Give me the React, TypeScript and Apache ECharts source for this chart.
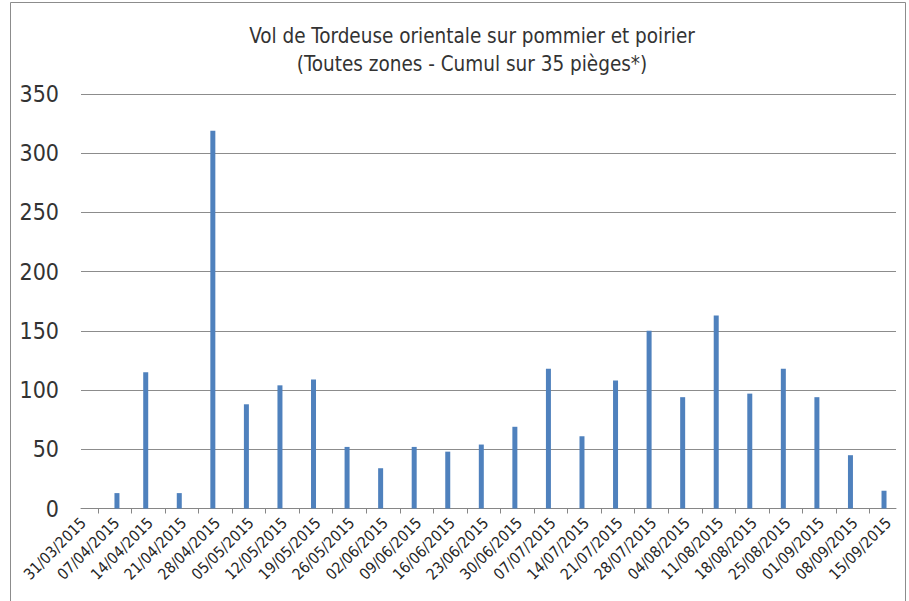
import React, { useEffect, useRef } from "react";
import * as echarts from "echarts";

const titleLine1 = "Vol de Tordeuse orientale sur pommier et poirier";
const titleLine2 = "(Toutes zones - Cumul sur 35 pièges*)";

const axisLabelDates = [
  "31/03/2015", "07/04/2015", "14/04/2015", "21/04/2015", "28/04/2015",
  "05/05/2015", "12/05/2015", "19/05/2015", "26/05/2015", "02/06/2015",
  "09/06/2015", "16/06/2015", "23/06/2015", "30/06/2015", "07/07/2015",
  "14/07/2015", "21/07/2015", "28/07/2015", "04/08/2015", "11/08/2015",
  "18/08/2015", "25/08/2015", "01/09/2015", "08/09/2015", "15/09/2015",
];

const captureDates = [
  "07/04/2015", "13/04/2015", "20/04/2015", "27/04/2015", "04/05/2015",
  "11/05/2015", "18/05/2015", "25/05/2015", "01/06/2015", "08/06/2015",
  "15/06/2015", "22/06/2015", "29/06/2015", "06/07/2015", "13/07/2015",
  "20/07/2015", "27/07/2015", "03/08/2015", "10/08/2015", "17/08/2015",
  "24/08/2015", "31/08/2015", "07/09/2015", "14/09/2015",
];

const captureValues = [
  13, 115, 13, 319, 88, 104, 109, 52, 34, 52, 48, 54, 69, 118, 61, 108,
  150, 94, 163, 97, 118, 94, 45, 15,
];

const yTicks = [0, 50, 100, 150, 200, 250, 300, 350];

const DAY = 86400000;
const parseDate = (s: string) => {
  const [d, m, y] = s.split("/").map(Number);
  return Date.UTC(y, m - 1, d);
};
const origin = parseDate(axisLabelDates[0]);
const dayIndex = (s: string) => Math.round((parseDate(s) - origin) / DAY);

export default function App() {
  const ref = useRef<HTMLDivElement>(null);

  useEffect(() => {
    if (!ref.current) return;
    const chart = echarts.init(ref.current, undefined, { renderer: "svg" });

    const labelDays = axisLabelDates.map(dayIndex);
    const labelMap: Record<number, string> = {};
    axisLabelDates.forEach((s, i) => (labelMap[labelDays[i]] = s));
    const lastDay = labelDays[labelDays.length - 1];
    const tickDays: number[] = [];
    for (let d = 3; d < lastDay; d += 7) tickDays.push(d);

    const fontFamily = "'Liberation Sans Narrow', 'DejaVu Sans Condensed', 'Liberation Sans', sans-serif";

    chart.setOption({
      animation: false,
      backgroundColor: "#ffffff",
      textStyle: { fontFamily },
      title: {
        text: titleLine1 + "\n" + titleLine2,
        left: 467,
        textAlign: "center",
        top: 17,
        textStyle: {
          fontFamily,
          fontSize: 20.5,
          fontWeight: "normal",
          color: "#333333",
          lineHeight: 28,
        },
      },
      graphic: [
        {
          type: "rect",
          shape: { x: 10.5, y: 2.5, width: 895, height: 640 },
          style: { fill: "none", stroke: "#8c8c8c", lineWidth: 1 },
          silent: true,
        },
      ],
      grid: { left: 81, right: 13, top: 94, bottom: 92.5, containLabel: false },
      xAxis: {
        type: "value",
        min: -0.5,
        max: lastDay + 1.5,
        splitLine: { show: false },
        axisLine: { show: true, onZero: false, lineStyle: { color: "#868686", width: 1 } },
        axisTick: {
          show: true,
          customValues: tickDays,
          length: 5,
          inside: false,
          lineStyle: { color: "#868686" },
        },
        axisLabel: {
          customValues: labelDays,
          rotate: 45,
          margin: 12,
          fontSize: 15.5,
          color: "#262626",
          fontFamily,
          formatter: (v: number) => labelMap[Math.round(v)] ?? "",
        },
      },
      yAxis: {
        type: "value",
        min: 0,
        max: 350,
        interval: 50,
        axisLine: { show: false },
        axisTick: { show: false },
        splitLine: { show: true, lineStyle: { color: "#8c8c8c", width: 1 } },
        axisLabel: {
          margin: 22,
          fontSize: 23,
          color: "#333333",
          fontFamily,
          formatter: (v: number) => (yTicks.includes(v) ? String(v) : ""),
        },
      },
      series: [
        {
          type: "bar",
          barWidth: 5,
          data: captureDates.map((s, i) => [dayIndex(s), captureValues[i]]),
          itemStyle: { color: "#4f81bd" },
        },
      ],
    });

    return () => chart.dispose();
  }, []);

  return (
    <div
      ref={ref}
      style={{ position: "fixed", left: 0, top: 0, width: 909, height: 601 }}
    />
  );
}
